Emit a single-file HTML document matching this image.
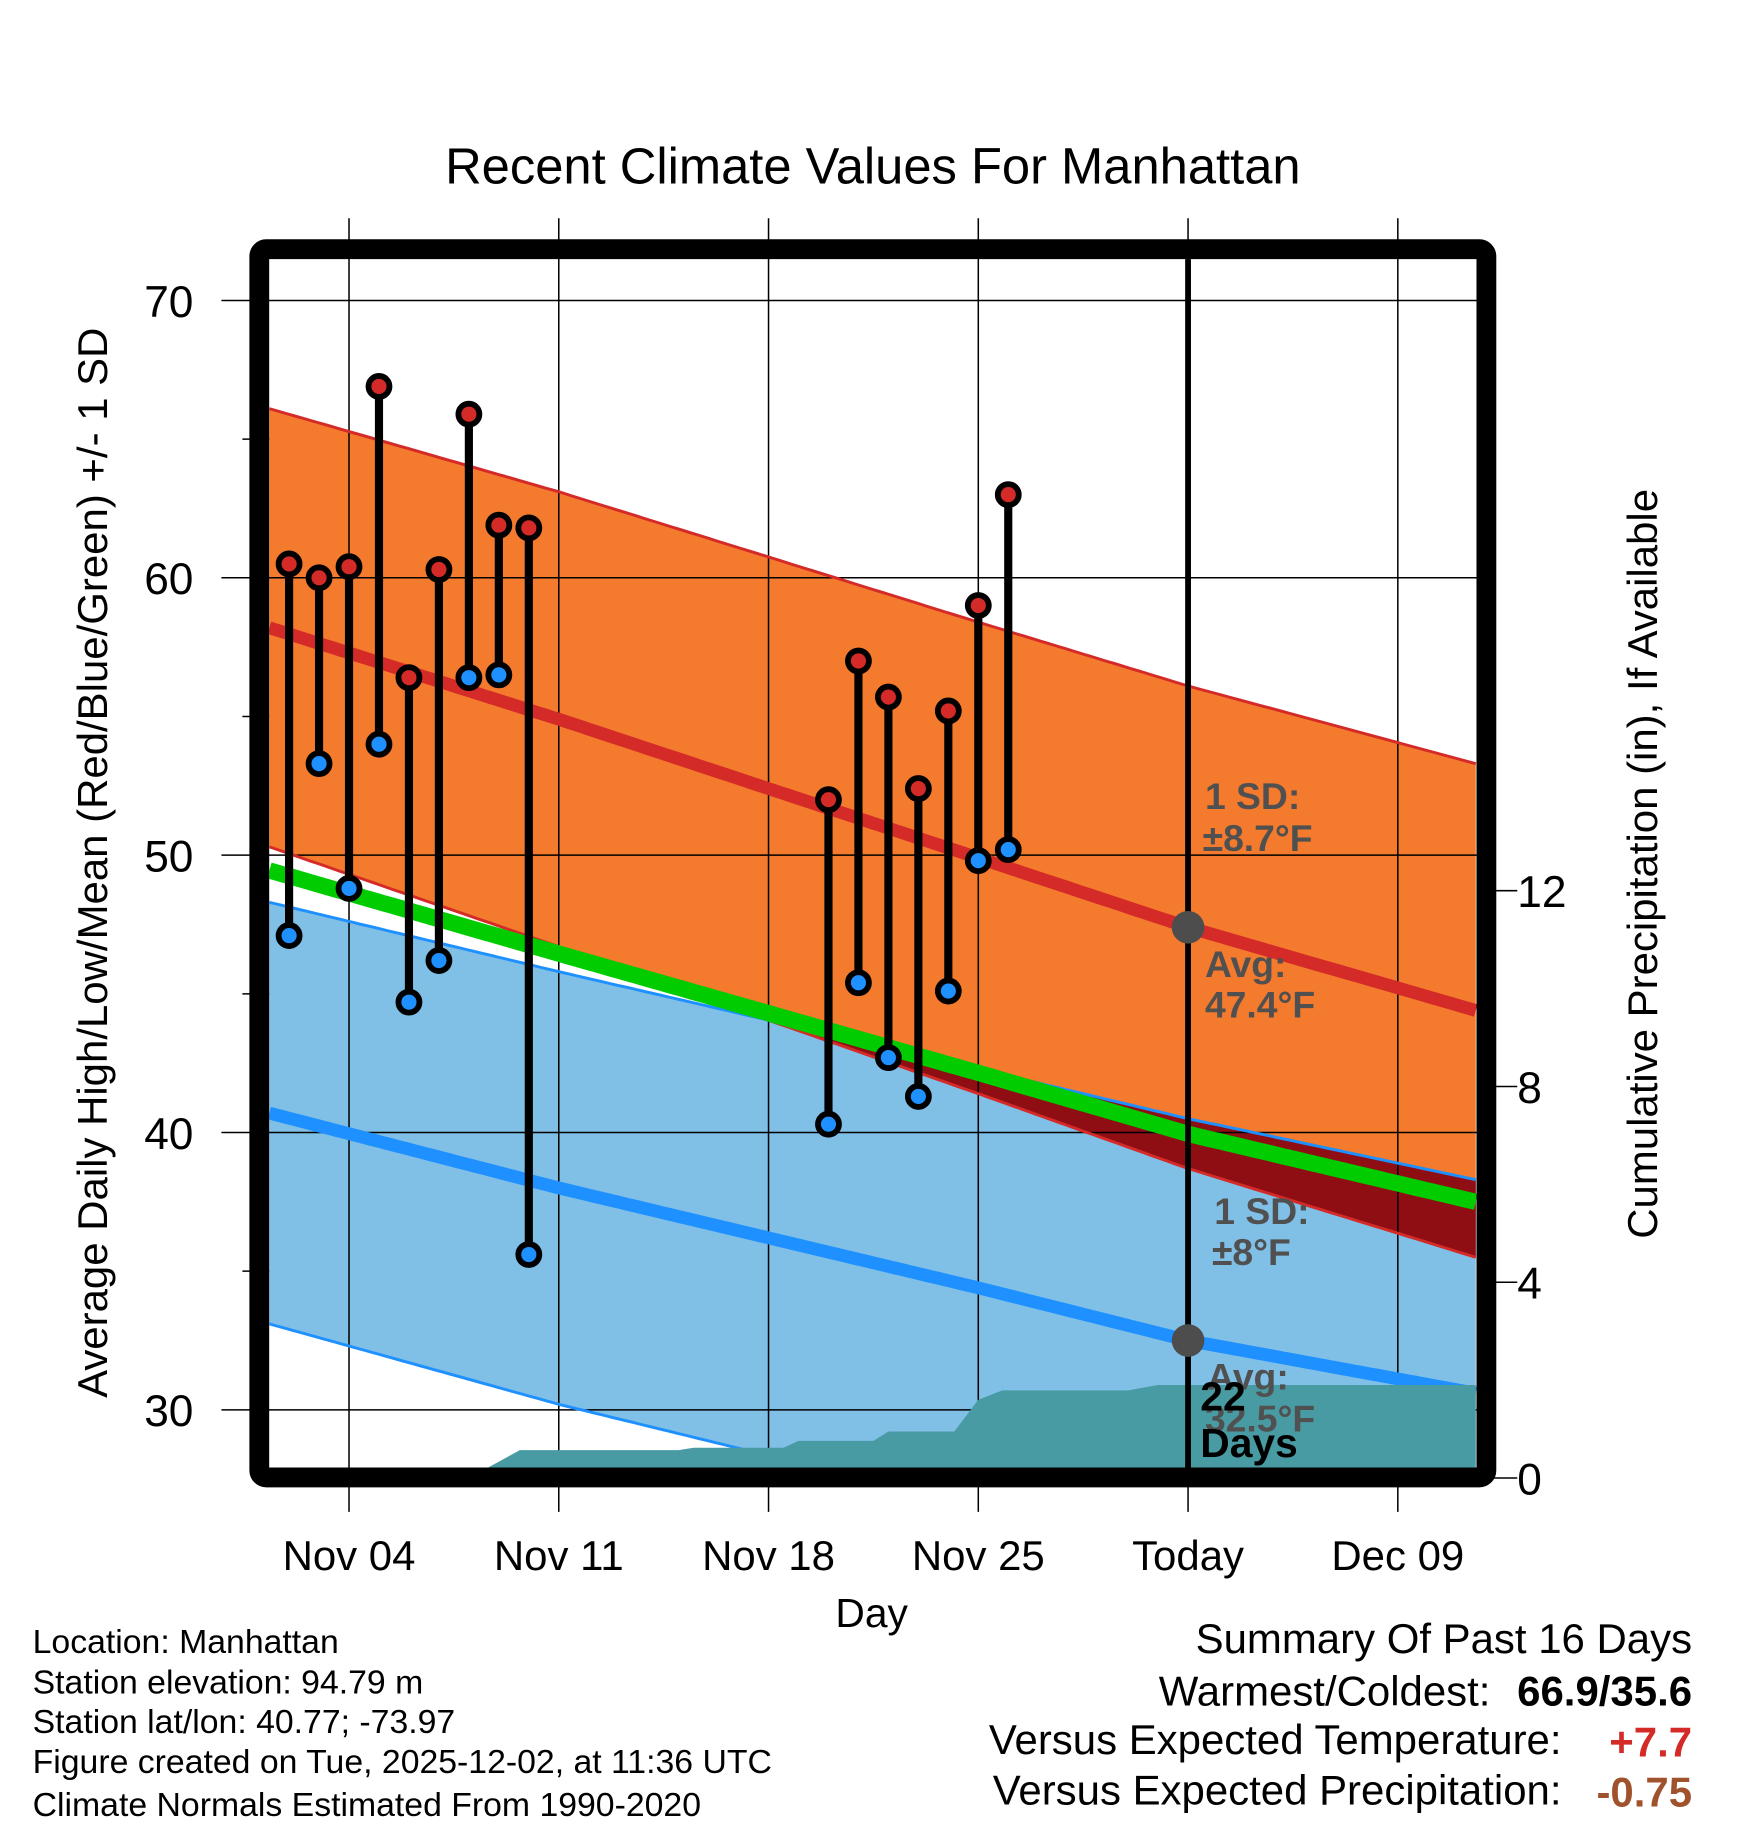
<!DOCTYPE html>
<html><head><meta charset="utf-8"><style>
html,body{margin:0;padding:0;background:#fff}
svg{display:block;font-family:"Liberation Sans",Arial,sans-serif}
</style></head><body>
<svg id="chart" width="1748" height="1828" viewBox="0 0 1500 1568" xmlns="http://www.w3.org/2000/svg">
<g id="fills"></g>
<g id="grid"></g>
<g id="lines"></g>
<g id="precip"></g>
<g id="obs"></g>
<g id="annot"></g>
<rect x="222.5" y="213.5" width="1053" height="1054" rx="6" fill="none" stroke="#000" stroke-width="17"/>
<g id="axes"></g>
<text x="749" y="157" font-size="43.5" text-anchor="middle">Recent Climate Values For Manhattan</text>
<text transform="translate(92,740) rotate(-90)" font-size="36" text-anchor="middle">Average Daily High/Low/Mean (Red/Blue/Green) +/- 1 SD</text>
<text transform="translate(1422,741) rotate(-90)" font-size="36" text-anchor="middle">Cumulative Precipitation (in), If Available</text>
<text x="748" y="1396" font-size="35" text-anchor="middle">Day</text>
<g font-size="29">
<text x="28" y="1418">Location: Manhattan</text>
<text x="28" y="1453">Station elevation: 94.79 m</text>
<text x="28" y="1487">Station lat/lon: 40.77; -73.97</text>
<text x="28" y="1521">Figure created on Tue, 2025-12-02, at 11:36 UTC</text>
<text x="28" y="1558">Climate Normals Estimated From 1990-2020</text>
</g>
<g font-size="36" text-anchor="end">
<text x="1452" y="1418">Summary Of Past 16 Days</text>
<text x="1279" y="1463">Warmest/Coldest:</text>
<text x="1452" y="1463" font-weight="bold">66.9/35.6</text>
<text x="1340" y="1505">Versus Expected Temperature:</text>
<text x="1452" y="1507" font-weight="bold" fill="#d42a28">+7.7</text>
<text x="1340" y="1548">Versus Expected Precipitation:</text>
<text x="1452" y="1550" font-weight="bold" fill="#a0522d">-0.75</text>
</g>
</svg>
<script>
// ---- data ----
const normDays = [1.34, 11, 25, 32, 41.6];
const highMean = [58.2, 54.9, 49.9, 47.4, 44.4];
const highSD = [7.9, 8.2, 8.5, 8.7, 8.9];
const lowMean = [40.7, 38.0, 34.4, 32.5, 30.6];
const lowSD = [7.6, 7.8, 7.9, 8.0, 7.7];
const obsDays = [2,3,4,5,6,7,8,9,10,20,21,22,23,24,25,26];
const obsHigh = [60.5,60.0,60.4,66.9,56.4,60.3,65.9,61.9,61.8,52.0,57.0,55.7,52.4,55.2,59.0,63.0];
const obsLow = [47.1,53.3,48.8,54.0,44.7,46.2,56.4,56.5,35.6,40.3,45.4,42.7,41.3,45.1,49.8,50.2];
const precipDays = [1.34,8,9.7,15,15.5,18.5,19,21.5,22,24.2,25,25.8,30,31,41.6];
const precipVals = [0,0,0.57,0.57,0.62,0.62,0.76,0.76,0.95,0.95,1.6,1.79,1.79,1.9,1.9];
const xTickDays = [4,11,18,25,32,39];
const xTickLabels = ["Nov 04","Nov 11","Nov 18","Nov 25","Today","Dec 09"];
const yTicks = [30,40,50,60,70];
const y2Ticks = [0,4,8,12];
const todayDay = 32;

// ---- axes ----
const X0=231, X1=1267, Y0=222, Y1=1259;
const xs = d => 299.5 + (d-4)*180/7;
const ys = t => 257.5 + (70-t)*23.8;
const yp = p => 1268 - p*42;
const NS="http://www.w3.org/2000/svg";
function mk(parent,tag,attrs){const e=document.createElementNS(NS,tag);for(const k in attrs)e.setAttribute(k,attrs[k]);parent.appendChild(e);return e;}
function interp(xArr,yArr,x){if(x<=xArr[0])return yArr[0];for(let i=1;i<xArr.length;i++){if(x<=xArr[i]){const f=(x-xArr[i-1])/(xArr[i]-xArr[i-1]);return yArr[i-1]+f*(yArr[i]-yArr[i-1]);}}return yArr[yArr.length-1];}
const dStart=normDays[0], dEnd=normDays[normDays.length-1];
const samp=[];for(let i=0;i<=200;i++)samp.push(dStart+(dEnd-dStart)*i/200);
const hm=d=>interp(normDays,highMean,d), hs=d=>interp(normDays,highSD,d);
const lm=d=>interp(normDays,lowMean,d), ls=d=>interp(normDays,lowSD,d);
const hU=d=>hm(d)+hs(d), hL=d=>hm(d)-hs(d), lU=d=>lm(d)+ls(d), lL=d=>lm(d)-ls(d);
const gm=d=>(hm(d)+lm(d))/2;
const clampY=y=>Math.max(Y0,Math.min(Y1,y));
function band(fu,fl){let p=samp.map(d=>xs(d).toFixed(1)+','+clampY(ys(fu(d))).toFixed(1));p=p.concat(samp.slice().reverse().map(d=>xs(d).toFixed(1)+','+clampY(ys(fl(d))).toFixed(1)));return p.join(' ');}
function line(f){return samp.map(d=>xs(d).toFixed(1)+','+ys(f(d)).toFixed(1)).join(' ');}

const fills=document.getElementById('fills');
let e;
e=mk(fills,'polygon',{points:band(hU,hL),fill:'#f47a2d'});


e=mk(fills,'polygon',{points:band(lU,lL),fill:'#80bfe6'});


e=mk(fills,'polygon',{points:band(lU,d=>Math.min(lU(d),hL(d))),fill:'#8e0e14'});



// grid
const grid=document.getElementById('grid');
xTickDays.forEach(d=>{e=mk(grid,'line',{x1:xs(d),x2:xs(d),y1:187,y2:1297,stroke:'#000','stroke-width':1.3});

});
yTicks.forEach(t=>{e=mk(grid,'line',{x1:190,x2:X1,y1:ys(t),y2:ys(t),stroke:'#000','stroke-width':1.3});

});

// lines
const lines=document.getElementById('lines');
const defs=mk(document.getElementById('chart'),'defs',{});
const cp=mk(defs,'clipPath',{id:'plotclip'});mk(cp,'rect',{x:X0,y:Y0,width:X1-X0,height:Y1-Y0});
[[hU,'#d42a28',2.5,'high-upper-sd'],[hL,'#d42a28',2.5,'high-lower-sd'],[lU,'#1e90ff',2.5,'low-upper-sd'],[lL,'#1e90ff',2.5,'low-lower-sd'],[hm,'#d42a28',11,'normal-high-line'],[lm,'#1e90ff',11,'normal-low-line'],[gm,'#00cc00',14,'normal-mean-line']].forEach(a=>{
 e=mk(lines,'polyline',{points:line(a[0]),fill:'none',stroke:a[1],'stroke-width':a[2],'clip-path':'url(#plotclip)'});
 
 
});

// precip
const pr=document.getElementById('precip');
let pp=[xs(precipDays[0])+','+Y1];
precipDays.forEach((d,i)=>pp.push(xs(d).toFixed(1)+','+yp(precipVals[i]).toFixed(1)));
pp.push(xs(precipDays[precipDays.length-1])+','+Y1);
e=mk(pr,'polygon',{points:pp.join(' '),fill:'#489ba2'});



// today line
const an=document.getElementById('annot');
e=mk(an,'line',{x1:xs(todayDay),x2:xs(todayDay),y1:Y0,y2:Y1,stroke:'#000','stroke-width':5});


e=mk(an,'circle',{cx:xs(todayDay),cy:ys(hm(todayDay)),r:14,fill:'#4d4d4d'});


e=mk(an,'circle',{cx:xs(todayDay),cy:ys(lm(todayDay)),r:14,fill:'#4d4d4d'});


const labels=[[1034,694,'1 SD:'],[1032,730,'±8.7°F'],[1034,838,'Avg:'],[1034,873,'47.4°F'],[1042,1050,'1 SD:'],[1040,1085,'±8°F'],[1036,1192,'Avg:'],[1034,1228,'32.5°F']];
labels.forEach(l=>{e=mk(an,'text',{x:l[0],y:l[1],'font-size':32,'font-weight':'bold',fill:'#505050'});e.textContent=l[2];

});
[[1030,1210,'22'],[1030,1250,'Days']].forEach(l=>{e=mk(an,'text',{x:l[0],y:l[1],'font-size':35,'font-weight':'bold',fill:'#000'});e.textContent=l[2];

});

// observations
const ob=document.getElementById('obs');
obsDays.forEach((d,i)=>{
 const x=xs(d);
 e=mk(ob,'line',{x1:x,x2:x,y1:ys(obsHigh[i]),y2:ys(obsLow[i]),stroke:'#000','stroke-width':7});
 
 
 e=mk(ob,'circle',{cx:x,cy:ys(obsHigh[i]),r:9,fill:'#d42a28',stroke:'#000','stroke-width':5});
 
 
 e=mk(ob,'circle',{cx:x,cy:ys(obsLow[i]),r:9,fill:'#1e90ff',stroke:'#000','stroke-width':5});
 
 
});

// axes labels
const ax=document.getElementById('axes');
xTickDays.forEach((d,i)=>{e=mk(ax,'text',{x:xs(d),y:1347,'font-size':36,'text-anchor':'middle'});e.textContent=xTickLabels[i];

});
yTicks.forEach(t=>{e=mk(ax,'text',{x:166,y:ys(t)+14,'font-size':38,'text-anchor':'end'});e.textContent=t;

});
[35,45,55,65].forEach(t=>{mk(ax,'line',{x1:208,x2:X0,y1:ys(t),y2:ys(t),stroke:'#000','stroke-width':1.3});});
y2Ticks.forEach(p=>{mk(ax,'line',{x1:1276,x2:1302,y1:yp(p),y2:yp(p),stroke:'#000','stroke-width':1.3});
e=mk(ax,'text',{x:1302,y:yp(p)+14,'font-size':38});e.textContent=p;

});
</script>
</body></html>
